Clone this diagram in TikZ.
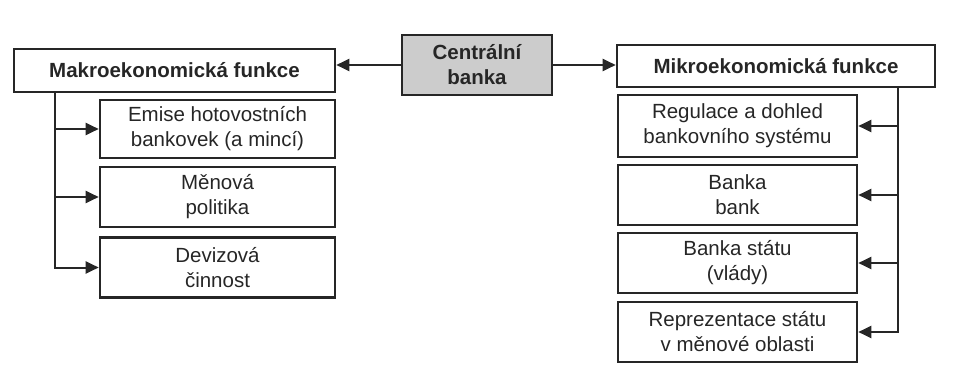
\documentclass[tikz,border=0pt]{standalone}
\usepackage{fontspec}
\setmainfont{Liberation Sans}
\usetikzlibrary{arrows.meta,positioning,calc}

\begin{document}
\begin{tikzpicture}[x=1pt, y=-1pt,
    box/.style={draw=black!85, line width=2.6pt, inner sep=1pt, align=center, text=black!85, font=\fontsize{20.5}{25}\selectfont},
    head/.style={box, font=\fontsize{20.5}{25}\selectfont\bfseries},
    arr/.style={-{Triangle[length=13pt, width=12pt]}, line width=2pt, draw=black!85}
]
\useasboundingbox (0,0) rectangle (955,371);
\node[head, fill=black!20, minimum width=150pt, minimum height=60pt] (cb) at (477,65) {Centrální\\banka};
\node[head, minimum width=321pt, minimum height=43pt] (makro) at (174.5,70.5) {Makroekonomická funkce};
\node[head, minimum width=318pt, minimum height=42pt] (mikro) at (776,66) {Mikroekonomická funkce};

\node[box, minimum width=235pt, minimum height=58pt] (emise) at (217.5,129) {Emise hotovostních\\bankovek (a mincí)};
\node[box, minimum width=235pt, minimum height=60pt] (menova) at (217.5,197) {Měnová\\politika};
\node[box, minimum width=235pt, minimum height=60pt] (deviz) at (217.5,267.5) {Devizová\\činnost};

\node[box, minimum width=239pt, minimum height=62pt] (regul) at (737.5,126) {Regulace a dohled\\bankovního systému};
\node[box, minimum width=239pt, minimum height=60pt] (bankbank) at (737.5,195) {Banka\\bank};
\node[box, minimum width=239pt, minimum height=60pt] (bankstat) at (737.5,263) {Banka státu\\(vlády)};
\node[box, minimum width=239pt, minimum height=60pt] (repre) at (737.5,332) {Reprezentace státu\\v měnové oblasti};

\coordinate (lt) at (55,0);
\coordinate (rt) at (898,0);

\draw[arr] (cb.west) -- (cb.west -| makro.east);
\draw[arr] (cb.east) -- (cb.east -| mikro.west);
\draw[arr] (lt |- makro.south) |- (emise.west);
\draw[arr] (lt |- makro.south) |- (menova.west);
\draw[arr] (lt |- makro.south) |- (deviz.west);
\draw[arr] (rt |- mikro.south) |- (regul.east);
\draw[arr] (rt |- mikro.south) |- (bankbank.east);
\draw[arr] (rt |- mikro.south) |- (bankstat.east);
\draw[arr] (rt |- mikro.south) |- (repre.east);
\end{tikzpicture}
\end{document}
